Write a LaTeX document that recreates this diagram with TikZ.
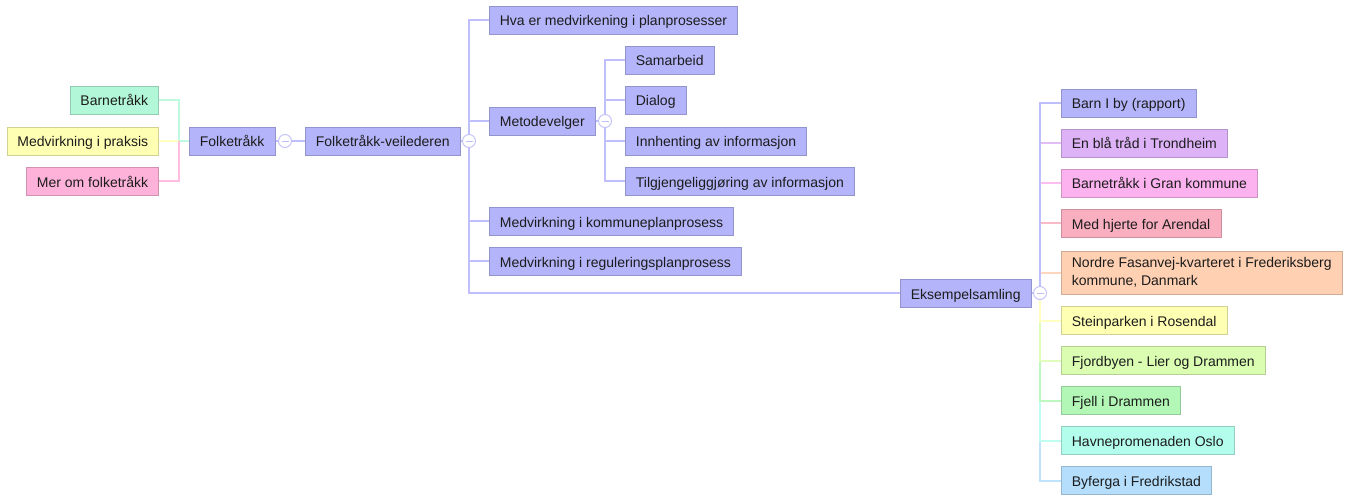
\documentclass[tikz,border=0pt]{standalone}
\usepackage{fontspec}
\setmainfont{Liberation Sans}
\usetikzlibrary{backgrounds}
\definecolor{cBlue}{HTML}{B4B4FA}
\definecolor{cMint}{HTML}{B2F7D8}
\definecolor{cYellow}{HTML}{FFFFB4}
\definecolor{cPink}{HTML}{FFB2D9}
\definecolor{cLilac}{HTML}{DDB2F7}
\definecolor{cMagenta}{HTML}{FCB2EF}
\definecolor{cRose}{HTML}{F9AFC0}
\definecolor{cPeach}{HTML}{FFD0B2}
\definecolor{cLime}{HTML}{DAFDB2}
\definecolor{cGreen}{HTML}{B2F7B6}
\definecolor{cAqua}{HTML}{B2FDEC}
\definecolor{cSky}{HTML}{B4DEFC}
\definecolor{cText}{HTML}{1C1C1C}
\begin{document}
\begin{tikzpicture}[x=1pt,y=-1pt,
  box/.style={fill=#1, draw=#1!82!black, line width=0.7pt,
    minimum height=28pt, inner xsep=10.5pt, inner ysep=0pt,
    text height=14pt, text depth=2pt,
    font=\fontsize{14}{18}\selectfont, text=cText},
  lk/.style={draw=#1!85!white, line width=2pt},
  toggle/.style={circle, draw=cBlue!85!white, fill=white, line width=0.9pt,
    minimum size=13pt, inner sep=0pt,
    path picture={\draw[cBlue!85!white, line width=0.9pt]
      ([xshift=-3.5pt]path picture bounding box.center) --
      ([xshift=3.5pt]path picture bounding box.center);}}]
\useasboundingbox (0,0) rectangle (1356,497);

% left-hand branch
\node[box=cMint, anchor=east] (bt) at (159,100) {Barnetråkk};
\node[box=cYellow, anchor=east] (mp) at (159,141) {Medvirkning i praksis};
\node[box=cPink, anchor=east] (mf) at (159,181) {Mer om folketråkk};
\node[box=cBlue, anchor=west] (folk) at (189,141) {Folketråkk};
\coordinate (jl) at (179,141);
\node[toggle] (t1) at (285,141) {};

% guide and its sections
\node[box=cBlue, anchor=west] (fv) at (305,141) {Folketråkk-veilederen};
\node[toggle] (t2) at (469,141) {};
\node[box=cBlue, anchor=west] (hva) at (489,20) {Hva er medvirkening i planprosesser};
\node[box=cBlue, anchor=west] (meto) at (489,121) {Metodevelger};
\node[toggle] (t3) at (605,121) {};
\node[box=cBlue, anchor=west] (sam) at (625,60) {Samarbeid};
\node[box=cBlue, anchor=west] (dia) at (625,100) {Dialog};
\node[box=cBlue, anchor=west] (inn) at (625,141) {Innhenting av informasjon};
\node[box=cBlue, anchor=west] (til) at (625,181) {Tilgjengeliggjøring av informasjon};
\node[box=cBlue, anchor=west] (kom) at (489,221) {Medvirkning i kommuneplanprosess};
\node[box=cBlue, anchor=west] (reg) at (489,261) {Medvirkning i reguleringsplanprosess};

% examples
\node[box=cBlue, anchor=west] (eks) at (900,293) {Eksempelsamling};
\node[toggle] (t4) at (1040,293) {};
\node[box=cBlue, anchor=west] (e1) at (1061,103) {Barn I by (rapport)};
\node[box=cLilac, anchor=west] (e2) at (1061,143) {En blå tråd i Trondheim};
\node[box=cMagenta, anchor=west] (e3) at (1061,183) {Barnetråkk i Gran kommune};
\node[box=cRose, anchor=west] (e4) at (1061,223) {Med hjerte for Arendal};
\node[box=cPeach, anchor=west, minimum height=43pt, align=left,
  text height=, text depth=] (e5) at (1061,272.5)
  {Nordre Fasanvej-kvarteret i Frederiksberg\\kommune, Danmark};
\node[box=cYellow, anchor=west] (e6) at (1061,320.5) {Steinparken i Rosendal};
\node[box=cLime, anchor=west] (e7) at (1061,360.5) {Fjordbyen - Lier og Drammen};
\node[box=cGreen, anchor=west] (e8) at (1061,400.5) {Fjell i Drammen};
\node[box=cAqua, anchor=west] (e9) at (1061,440.5) {Havnepromenaden Oslo};
\node[box=cSky, anchor=west] (e10) at (1061,480.5) {Byferga i Fredrikstad};

\begin{scope}[on background layer]
  % left-hand links
  \draw[lk=cMint] (folk.west) -- (jl) |- (bt.east);
  \draw[lk=cYellow] (jl) -- (mp.east);
  \draw[lk=cPink] (jl) |- (mf.east);
  \draw[lk=cBlue] (folk.east) -- (t1) -- (fv.west);
  % guide links
  \draw[lk=cBlue] (fv.east) -- (t2);
  \draw[lk=cBlue] (t2.center) |- (hva.west);
  \draw[lk=cBlue] (t2.center) |- (meto.west);
  \draw[lk=cBlue] (t2.center) |- (kom.west);
  \draw[lk=cBlue] (t2.center) |- (reg.west);
  \draw[lk=cBlue] (t2.center) |- (eks.west);
  \draw[lk=cBlue] (meto.east) -- (t3);
  \foreach \n in {sam,dia,inn,til}
    \draw[lk=cBlue] (t3.center) |- (\n.west);
  % example links
  \draw[lk=cBlue] (eks.east) -- (t4);
  \draw[lk=cSky] (t4.center) |- (e10.west);
  \draw[lk=cAqua] (t4.center) |- (e9.west);
  \draw[lk=cGreen] (t4.center) |- (e8.west);
  \draw[lk=cLime] (t4.center) |- (e7.west);
  \draw[lk=cYellow] (t4.center) |- (e6.west);
  \draw[lk=cPeach] (t4.center) |- (e5.west);
  \draw[lk=cRose] (t4.center) |- (e4.west);
  \draw[lk=cMagenta] (t4.center) |- (e3.west);
  \draw[lk=cLilac] (t4.center) |- (e2.west);
  \draw[lk=cBlue] (t4.center) |- (e1.west);
\end{scope}
\end{tikzpicture}
\end{document}
